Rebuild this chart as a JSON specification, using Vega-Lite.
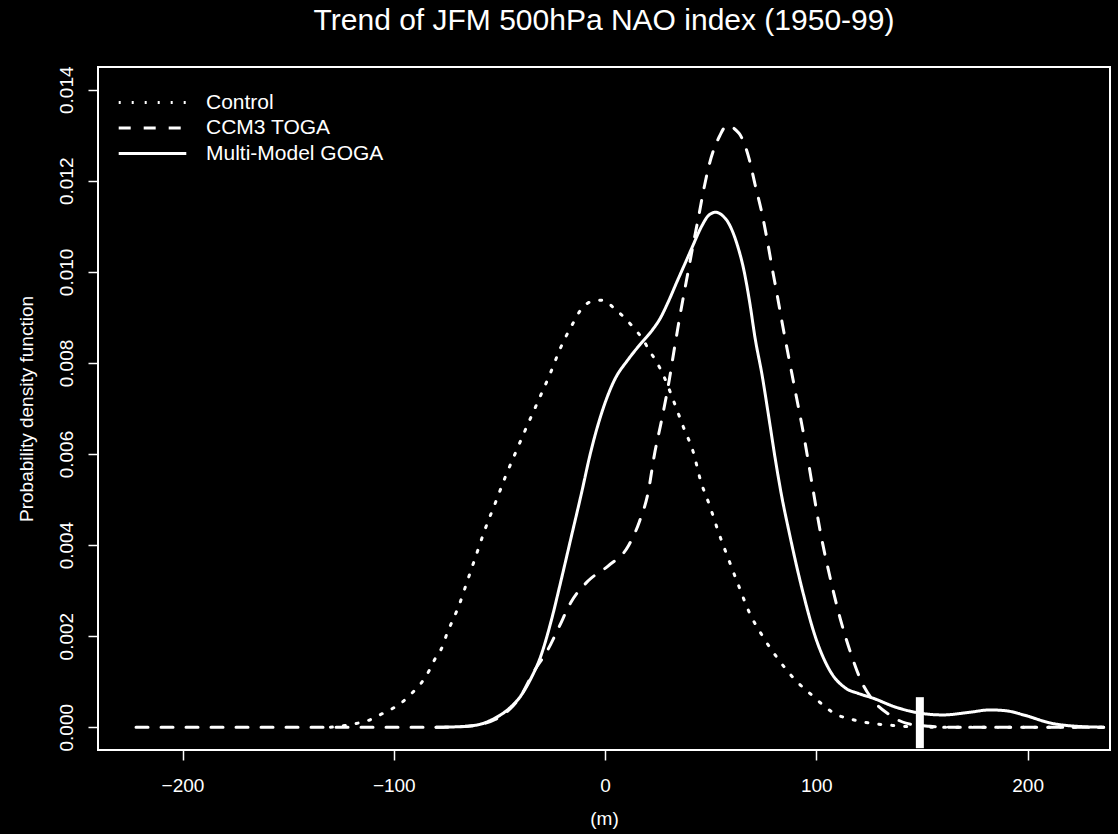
{
  "$schema": "https://vega.github.io/schema/vega-lite/v6.json",
  "width": 1012,
  "height": 683,
  "autosize": {"type": "none"},
  "padding": {"left": 98, "top": 67, "right": 8, "bottom": 84},
  "background": "black",
  "title": {
    "text": "Trend of JFM 500hPa NAO index (1950-99)",
    "color": "white",
    "font": "Liberation Sans",
    "fontSize": 30,
    "fontWeight": "normal",
    "anchor": "middle",
    "offset": 30
  },
  "config": {
    "view": {"stroke": "white", "strokeWidth": 2},
    "axis": {
      "domain": false,
      "grid": false,
      "tickColor": "white",
      "tickWidth": 1.5,
      "tickSize": 10,
      "labelColor": "white",
      "labelFont": "Liberation Sans",
      "labelFontSize": 19,
      "titleColor": "white",
      "titleFont": "Liberation Sans",
      "titleFontSize": 19,
      "titleFontWeight": "normal"
    },
    "legend": {
      "labelColor": "white",
      "labelFont": "Liberation Sans",
      "labelFontSize": 21,
      "labelLimit": 0,
      "padding": 0
    }
  },
  "layer": [
    {
      "data": {
        "values": [
          {"model": "Control", "x": -130, "density": 0.0},
          {"model": "Control", "x": -124, "density": 0.00003},
          {"model": "Control", "x": -118, "density": 0.00008},
          {"model": "Control", "x": -112, "density": 0.00015},
          {"model": "Control", "x": -106.7, "density": 0.00027},
          {"model": "Control", "x": -101, "density": 0.0004},
          {"model": "Control", "x": -96, "density": 0.00055},
          {"model": "Control", "x": -91.4, "density": 0.00075},
          {"model": "Control", "x": -87, "density": 0.00097},
          {"model": "Control", "x": -83.3, "density": 0.00124},
          {"model": "Control", "x": -80.5, "density": 0.0015},
          {"model": "Control", "x": -77, "density": 0.00177},
          {"model": "Control", "x": -74.8, "density": 0.00206},
          {"model": "Control", "x": -72.4, "density": 0.00232},
          {"model": "Control", "x": -69.5, "density": 0.00263},
          {"model": "Control", "x": -65.2, "density": 0.00321},
          {"model": "Control", "x": -61, "density": 0.00378},
          {"model": "Control", "x": -56.7, "density": 0.00436},
          {"model": "Control", "x": -51.9, "density": 0.00493},
          {"model": "Control", "x": -47.1, "density": 0.00551},
          {"model": "Control", "x": -41.9, "density": 0.00608},
          {"model": "Control", "x": -36.7, "density": 0.00664},
          {"model": "Control", "x": -31.4, "density": 0.00719},
          {"model": "Control", "x": -26.2, "density": 0.00774},
          {"model": "Control", "x": -21, "density": 0.00834},
          {"model": "Control", "x": -15.2, "density": 0.00887},
          {"model": "Control", "x": -11.9, "density": 0.00914},
          {"model": "Control", "x": -7, "density": 0.00934},
          {"model": "Control", "x": -1, "density": 0.00938},
          {"model": "Control", "x": 4.3, "density": 0.0092},
          {"model": "Control", "x": 9.5, "density": 0.00898},
          {"model": "Control", "x": 13.8, "density": 0.00876},
          {"model": "Control", "x": 17.6, "density": 0.00854},
          {"model": "Control", "x": 21, "density": 0.00827},
          {"model": "Control", "x": 24.8, "density": 0.00799},
          {"model": "Control", "x": 28.1, "density": 0.00768},
          {"model": "Control", "x": 32.4, "density": 0.00717},
          {"model": "Control", "x": 37.1, "density": 0.00659},
          {"model": "Control", "x": 41.9, "density": 0.00602},
          {"model": "Control", "x": 45.2, "density": 0.00542},
          {"model": "Control", "x": 49.5, "density": 0.00487},
          {"model": "Control", "x": 53.8, "density": 0.00427},
          {"model": "Control", "x": 58.6, "density": 0.00367},
          {"model": "Control", "x": 63.3, "density": 0.0031},
          {"model": "Control", "x": 68.1, "density": 0.00254},
          {"model": "Control", "x": 74.3, "density": 0.00202},
          {"model": "Control", "x": 81.4, "density": 0.00153},
          {"model": "Control", "x": 90, "density": 0.00104},
          {"model": "Control", "x": 99.5, "density": 0.00064},
          {"model": "Control", "x": 104.3, "density": 0.00044},
          {"model": "Control", "x": 110, "density": 0.00027},
          {"model": "Control", "x": 116.2, "density": 0.00018},
          {"model": "Control", "x": 122.9, "density": 0.00011},
          {"model": "Control", "x": 129, "density": 0.00007},
          {"model": "Control", "x": 136, "density": 0.00004},
          {"model": "Control", "x": 145, "density": 0.00001},
          {"model": "Control", "x": 160, "density": 0.0},
          {"model": "Control", "x": 236, "density": 0.0},

          {"model": "CCM3 TOGA", "x": -222, "density": 0.0},
          {"model": "CCM3 TOGA", "x": -120, "density": 0.0},
          {"model": "CCM3 TOGA", "x": -75, "density": 0.0},
          {"model": "CCM3 TOGA", "x": -65, "density": 0.00002},
          {"model": "CCM3 TOGA", "x": -58, "density": 0.00007},
          {"model": "CCM3 TOGA", "x": -52, "density": 0.00017},
          {"model": "CCM3 TOGA", "x": -45, "density": 0.0004},
          {"model": "CCM3 TOGA", "x": -40, "density": 0.00068},
          {"model": "CCM3 TOGA", "x": -34, "density": 0.0012},
          {"model": "CCM3 TOGA", "x": -27.1, "density": 0.0017},
          {"model": "CCM3 TOGA", "x": -21.9, "density": 0.00219},
          {"model": "CCM3 TOGA", "x": -16.2, "density": 0.00274},
          {"model": "CCM3 TOGA", "x": -8.1, "density": 0.00321},
          {"model": "CCM3 TOGA", "x": 1.4, "density": 0.00354},
          {"model": "CCM3 TOGA", "x": 11, "density": 0.00398},
          {"model": "CCM3 TOGA", "x": 16.2, "density": 0.00451},
          {"model": "CCM3 TOGA", "x": 20.5, "density": 0.00518},
          {"model": "CCM3 TOGA", "x": 23.3, "density": 0.00597},
          {"model": "CCM3 TOGA", "x": 26.7, "density": 0.00673},
          {"model": "CCM3 TOGA", "x": 30, "density": 0.00752},
          {"model": "CCM3 TOGA", "x": 32.9, "density": 0.00834},
          {"model": "CCM3 TOGA", "x": 36.2, "density": 0.00923},
          {"model": "CCM3 TOGA", "x": 39.5, "density": 0.01005},
          {"model": "CCM3 TOGA", "x": 41.5, "density": 0.01055},
          {"model": "CCM3 TOGA", "x": 44.3, "density": 0.01122},
          {"model": "CCM3 TOGA", "x": 46.7, "density": 0.01181},
          {"model": "CCM3 TOGA", "x": 49.5, "density": 0.01239},
          {"model": "CCM3 TOGA", "x": 54.3, "density": 0.01299},
          {"model": "CCM3 TOGA", "x": 57.6, "density": 0.01321},
          {"model": "CCM3 TOGA", "x": 63.3, "density": 0.01305},
          {"model": "CCM3 TOGA", "x": 68.1, "density": 0.0125},
          {"model": "CCM3 TOGA", "x": 71, "density": 0.01192},
          {"model": "CCM3 TOGA", "x": 74.3, "density": 0.01128},
          {"model": "CCM3 TOGA", "x": 76.7, "density": 0.01071},
          {"model": "CCM3 TOGA", "x": 79, "density": 0.01011},
          {"model": "CCM3 TOGA", "x": 81.4, "density": 0.00951},
          {"model": "CCM3 TOGA", "x": 83.8, "density": 0.00889},
          {"model": "CCM3 TOGA", "x": 86.2, "density": 0.0083},
          {"model": "CCM3 TOGA", "x": 90, "density": 0.00739},
          {"model": "CCM3 TOGA", "x": 94.3, "density": 0.00635},
          {"model": "CCM3 TOGA", "x": 98.1, "density": 0.00531},
          {"model": "CCM3 TOGA", "x": 101.9, "density": 0.00429},
          {"model": "CCM3 TOGA", "x": 106.7, "density": 0.00325},
          {"model": "CCM3 TOGA", "x": 111.4, "density": 0.00237},
          {"model": "CCM3 TOGA", "x": 116.2, "density": 0.00164},
          {"model": "CCM3 TOGA", "x": 121, "density": 0.00104},
          {"model": "CCM3 TOGA", "x": 126.7, "density": 0.0006},
          {"model": "CCM3 TOGA", "x": 134.8, "density": 0.00027},
          {"model": "CCM3 TOGA", "x": 142.4, "density": 0.00009},
          {"model": "CCM3 TOGA", "x": 153.8, "density": 0.00002},
          {"model": "CCM3 TOGA", "x": 165, "density": 0.0},
          {"model": "CCM3 TOGA", "x": 236, "density": 0.0},

          {"model": "Multi-Model GOGA", "x": -80, "density": 0.0},
          {"model": "Multi-Model GOGA", "x": -70, "density": 0.00001},
          {"model": "Multi-Model GOGA", "x": -60.5, "density": 0.00005},
          {"model": "Multi-Model GOGA", "x": -52.9, "density": 0.00018},
          {"model": "Multi-Model GOGA", "x": -45.7, "density": 0.0004},
          {"model": "Multi-Model GOGA", "x": -40, "density": 0.00068},
          {"model": "Multi-Model GOGA", "x": -35.2, "density": 0.00106},
          {"model": "Multi-Model GOGA", "x": -30.5, "density": 0.00155},
          {"model": "Multi-Model GOGA", "x": -25.7, "density": 0.0023},
          {"model": "Multi-Model GOGA", "x": -21, "density": 0.00319},
          {"model": "Multi-Model GOGA", "x": -16.2, "density": 0.00414},
          {"model": "Multi-Model GOGA", "x": -11.4, "density": 0.00509},
          {"model": "Multi-Model GOGA", "x": -6.7, "density": 0.00606},
          {"model": "Multi-Model GOGA", "x": -1.9, "density": 0.00686},
          {"model": "Multi-Model GOGA", "x": 4.3, "density": 0.00761},
          {"model": "Multi-Model GOGA", "x": 11, "density": 0.00808},
          {"model": "Multi-Model GOGA", "x": 17, "density": 0.00843},
          {"model": "Multi-Model GOGA", "x": 22, "density": 0.0087},
          {"model": "Multi-Model GOGA", "x": 26, "density": 0.00897},
          {"model": "Multi-Model GOGA", "x": 30, "density": 0.00935},
          {"model": "Multi-Model GOGA", "x": 34, "density": 0.00978},
          {"model": "Multi-Model GOGA", "x": 38, "density": 0.0102},
          {"model": "Multi-Model GOGA", "x": 41.5, "density": 0.01057},
          {"model": "Multi-Model GOGA", "x": 45.7, "density": 0.011},
          {"model": "Multi-Model GOGA", "x": 49, "density": 0.01124},
          {"model": "Multi-Model GOGA", "x": 52.4, "density": 0.01131},
          {"model": "Multi-Model GOGA", "x": 55.5, "density": 0.01124},
          {"model": "Multi-Model GOGA", "x": 58.6, "density": 0.01106},
          {"model": "Multi-Model GOGA", "x": 62.4, "density": 0.01062},
          {"model": "Multi-Model GOGA", "x": 65.7, "density": 0.01004},
          {"model": "Multi-Model GOGA", "x": 68.6, "density": 0.00929},
          {"model": "Multi-Model GOGA", "x": 71, "density": 0.00855},
          {"model": "Multi-Model GOGA", "x": 74.3, "density": 0.00774},
          {"model": "Multi-Model GOGA", "x": 77.6, "density": 0.00678},
          {"model": "Multi-Model GOGA", "x": 80.5, "density": 0.00591},
          {"model": "Multi-Model GOGA", "x": 83.5, "density": 0.0051},
          {"model": "Multi-Model GOGA", "x": 87.1, "density": 0.00429},
          {"model": "Multi-Model GOGA", "x": 93.3, "density": 0.00303},
          {"model": "Multi-Model GOGA", "x": 99.5, "density": 0.00199},
          {"model": "Multi-Model GOGA", "x": 106.2, "density": 0.00126},
          {"model": "Multi-Model GOGA", "x": 113.8, "density": 0.00086},
          {"model": "Multi-Model GOGA", "x": 120, "density": 0.00074},
          {"model": "Multi-Model GOGA", "x": 126.7, "density": 0.00064},
          {"model": "Multi-Model GOGA", "x": 137.6, "density": 0.00044},
          {"model": "Multi-Model GOGA", "x": 149, "density": 0.00031},
          {"model": "Multi-Model GOGA", "x": 160, "density": 0.00027},
          {"model": "Multi-Model GOGA", "x": 172.9, "density": 0.00033},
          {"model": "Multi-Model GOGA", "x": 182, "density": 0.00038},
          {"model": "Multi-Model GOGA", "x": 190, "density": 0.00036},
          {"model": "Multi-Model GOGA", "x": 198.1, "density": 0.00027},
          {"model": "Multi-Model GOGA", "x": 211, "density": 0.00009},
          {"model": "Multi-Model GOGA", "x": 223.3, "density": 0.00002},
          {"model": "Multi-Model GOGA", "x": 236, "density": 0.0}
        ]
      },
      "mark": {"type": "line", "color": "white", "strokeWidth": 3, "strokeCap": "round", "interpolate": "monotone", "clip": true},
      "encoding": {
        "x": {
          "field": "x",
          "type": "quantitative",
          "scale": {"domain": [-240, 239], "nice": false, "zero": false},
          "axis": {"values": [-200, -100, 0, 100, 200], "title": "(m)", "labelPadding": 16, "titleY": 68, "titleBaseline": "middle"}
        },
        "y": {
          "field": "density",
          "type": "quantitative",
          "scale": {"domain": [-0.0005, 0.0145], "nice": false, "zero": false},
          "axis": {
            "values": [0, 0.002, 0.004, 0.006, 0.008, 0.01, 0.012, 0.014],
            "format": ".3f",
            "labelAngle": -90,
            "labelAlign": "center",
            "labelBaseline": "bottom",
            "labelPadding": 12,
            "title": "Probability density function",
            "titleX": -72,
            "titleBaseline": "middle"
          }
        },
        "strokeDash": {
          "field": "model",
          "type": "nominal",
          "scale": {
            "domain": ["Control", "CCM3 TOGA", "Multi-Model GOGA"],
            "range": [[2, 11], [12, 13], [1, 0]]
          },
          "legend": {
            "title": null,
            "orient": "none",
            "legendX": 40,
            "legendY": 21,
            "symbolType": "M-2.6,0H2.6",
            "symbolSize": 676,
            "symbolStrokeColor": "white",
            "symbolStrokeWidth": 3,
            "labelOffset": 39,
            "rowPadding": 0.5
          }
        }
      }
    },
    {
      "data": {"values": [{"trend": 149, "low": -0.00046, "high": 0.00066}]},
      "mark": {"type": "rule", "color": "white", "strokeWidth": 8, "strokeCap": "butt"},
      "encoding": {
        "x": {"field": "trend", "type": "quantitative"},
        "y": {"field": "low", "type": "quantitative"},
        "y2": {"field": "high"}
      }
    }
  ]
}
